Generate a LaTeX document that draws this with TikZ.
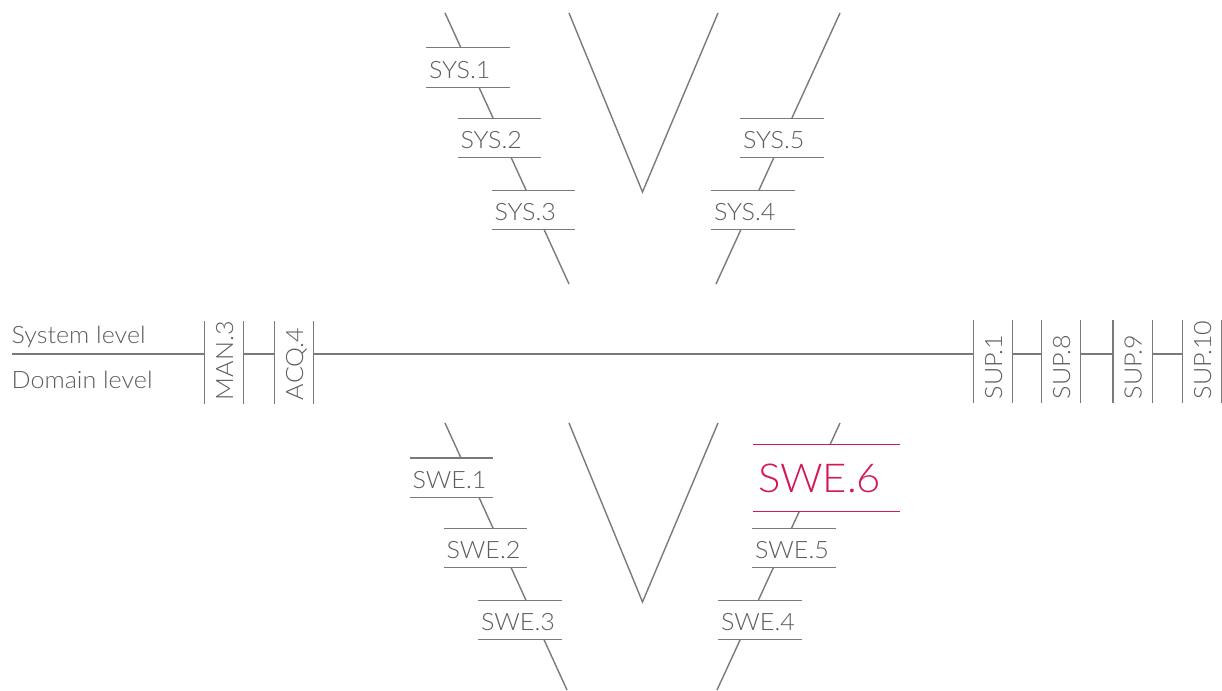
\documentclass[tikz,border=0pt]{standalone}
\usepackage{fontspec}
\setmainfont{Lato Light}[FakeStretch=1.05]
\usetikzlibrary{positioning}

\definecolor{linegray}{HTML}{7A7A7A}
\definecolor{textgray}{HTML}{5C5C5C}
\definecolor{swered}{HTML}{D4165A}

\tikzset{
  procbox/.style={fill=white, text=textgray, font=\fontsize{12}{14}\selectfont,
    minimum height=19bp, inner xsep=1bp, inner ysep=0pt, text width=39bp,
    align=left, text height=10.5bp, text depth=0pt},
  vprocbox/.style={procbox, rotate=90, inner xsep=1.5bp, text width=37.5bp, text height=9bp},
  hotbox/.style={procbox, text=swered, font=\fontsize{20}{24}\selectfont,
    minimum height=33bp, text width=68.5bp, inner xsep=2bp, text height=14.5bp},
  levellabel/.style={text=textgray, font=\fontsize{12}{14}\selectfont, anchor=base west, inner sep=0pt},
  vline/.style={draw=linegray}
}

\begin{document}
\begin{tikzpicture}[x=0.5bp, y=-0.5bp, line width=0.7bp]
  \useasboundingbox (0,0) rectangle (1222,690);

  % system V
  \coordinate (sysLtop) at (445,13);  \coordinate (sysLbot) at (569,284);
  \coordinate (sysItopL) at (569,13); \coordinate (sysIbot) at (642.5,192);
  \coordinate (sysItopR) at (718,13);
  \coordinate (sysRtop) at (840,13);  \coordinate (sysRbot) at (716,284);
  \draw[vline] (sysLtop) -- (sysLbot);
  \draw[vline] (sysItopL) -- (sysIbot) -- (sysItopR);
  \draw[vline] (sysRtop) -- (sysRbot);

  % software V
  \coordinate (sweLtop) at (445,423);  \coordinate (sweLbot) at (567,690);
  \coordinate (sweItopL) at (569,423); \coordinate (sweIbot) at (642.5,602);
  \coordinate (sweItopR) at (718,423);
  \coordinate (sweRtop) at (840,423);  \coordinate (sweRbot) at (717,690);
  \draw[vline] (sweLtop) -- (sweLbot);
  \draw[vline] (sweItopL) -- (sweIbot) -- (sweItopR);
  \draw[vline] (sweRtop) -- (sweRbot);

  \node[procbox] (sys1) at (468,67.5) {SYS.1};
  \node[procbox] (sys2) at (499.5,138) {SYS.2};
  \node[procbox] (sys3) at (533.5,210) {SYS.3};
  \node[procbox] (sys4) at (753,210) {SYS.4};
  \node[procbox] (sys5) at (782,138) {SYS.5};

  \node[procbox] (swe1) at (451.5,477.5) {SWE.1};
  \node[procbox] (swe2) at (485.5,548) {SWE.2};
  \node[procbox] (swe3) at (520,620) {SWE.3};
  \node[procbox] (swe4) at (760,620) {SWE.4};
  \node[procbox] (swe5) at (794,548) {SWE.5};
  \node[hotbox] (swe6) at (826.5,478) {SWE.6};

  % levels
  \node[levellabel] (syslevel) at (11,343) {System level};
  \node[levellabel] (domlevel) at (11,388) {Domain level};
  \coordinate (levelstart) at (12,354);

  \node[vprocbox] (man3) at (224,362.5) {MAN.3};
  \node[vprocbox] (acq4) at (294,362.5) {ACQ.4};
  \node[vprocbox] (sup1) at (993,361.5) {SUP.1};
  \node[vprocbox] (sup8) at (1061,361.5) {SUP.8};
  \node[vprocbox] (sup9) at (1132.5,361.5) {SUP.9};
  \node[vprocbox] (sup10) at (1202,361.5) {SUP.10};

  % bars of the boxes
  \foreach \n in {sys1,sys2,sys3,sys4,sys5,swe1,swe2,swe3,swe4,swe5,man3,acq4,sup1,sup8,sup9,sup10}
    \draw[vline] (\n.north west) -- (\n.north east) (\n.south west) -- (\n.south east);
  \draw[swered] (swe6.north west) -- (swe6.north east) (swe6.south west) -- (swe6.south east);

  \draw[vline] (levelstart) -- (man3.north |- levelstart);
  \foreach \a/\b in {man3/acq4, acq4/sup1, sup1/sup8, sup8/sup9, sup9/sup10}
    \draw[vline] (\a.south |- levelstart) -- (\b.north |- levelstart);
\end{tikzpicture}
\end{document}
